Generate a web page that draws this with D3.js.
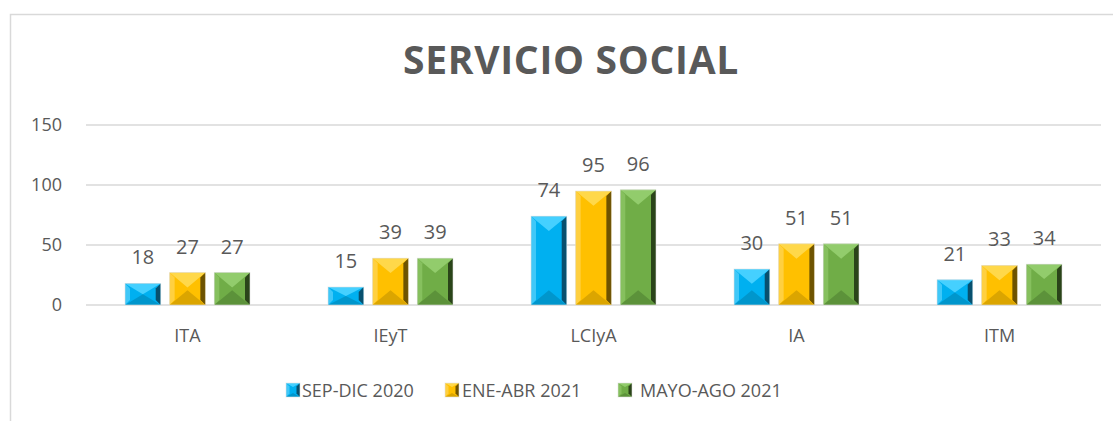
<!DOCTYPE html>
<html><head><meta charset="utf-8">
<script src="https://cdn.jsdelivr.net/npm/d3@7"></script>
<style>body{margin:0;background:#fff}svg{display:block}</style>
</head><body>
<svg id="c" width="1113" height="421"></svg>
<script>
const categories = ["ITA","IEyT","LCIyA","IA","ITM"];
const seriesNames = ["SEP-DIC 2020","ENE-ABR 2021","MAYO-AGO 2021"];
const sepDic2020 = [18,15,74,30,21];
const eneAbr2021 = [27,39,95,51,33];
const mayoAgo2021 = [27,39,96,51,34];
const yTicks = [0,50,100,150];
const title = "SERVICIO SOCIAL";

const series = [sepDic2020, eneAbr2021, mayoAgo2021];
const palette = [
  {base:"#00B0F0", light:"#40c8f8", top:"#45d0ff", dark:"#08506e", bottom:"#0096cc"},
  {base:"#FFC000", light:"#ffd040", top:"#ffd84a", dark:"#6e5300", bottom:"#dba500"},
  {base:"#70AD47", light:"#86c05e", top:"#92cc6c", dark:"#2a4419", bottom:"#5c923a"}
];
const font = "'Open Sans', 'Liberation Sans', sans-serif";
const txt = "#595959";

const svg = d3.select("#c");
// chart border
svg.append("rect").attr("x",10.5).attr("y",14.5).attr("width",1120).attr("height",420)
  .attr("fill","none").attr("stroke","#d9d9d9").attr("stroke-width",1.5);

const x0 = 86, x1 = 1101;
const y = d3.scaleLinear().domain([0,150]).range([305,125]);
const xb = d3.scaleBand().domain(categories).range([x0,x1]).paddingInner(0).paddingOuter(0);
const xs = d3.scaleBand().domain(d3.range(3)).range([0,125]).paddingInner(0.2).paddingOuter(0);

// gridlines
svg.append("g").selectAll("line").data(yTicks).join("line")
  .attr("x1",x0).attr("x2",x1).attr("y1",d=>y(d)).attr("y2",d=>y(d))
  .attr("stroke","#d9d9d9").attr("stroke-width",1.5);

// y axis labels
const yAxis = d3.axisLeft(y).tickValues(yTicks).tickSize(0).tickPadding(0);
const yg = svg.append("g").attr("transform","translate(62,0)").call(yAxis);
yg.select(".domain").remove();
yg.selectAll("text").attr("font-family",font).attr("font-size",18).attr("fill",txt);

// x axis labels
const xAxis = d3.axisBottom(xb).tickSize(0).tickPadding(0);
const xg = svg.append("g").attr("transform","translate(0,329)").call(xAxis);
xg.select(".domain").remove();
xg.selectAll("text").attr("font-family",font).attr("font-size",18).attr("fill",txt);

// bars with bevel
function bevelBar(g, bx0, bx1, by0, by1, c){
  const w = bx1-bx0, h = by1-by0, cx = (bx0+bx1)/2;
  const s = Math.min(5, w/4);
  const dv = Math.min(w/2 - 3, h/2);
  const P = pts => pts.map(p=>p.join(",")).join(" ");
  g.append("rect").attr("x",bx0).attr("y",by0).attr("width",w).attr("height",h).attr("fill",c.base);
  g.append("polygon").attr("points",P([[bx0,by0],[bx0+s,by0+Math.min(s,h/2)],[bx0+s,by1-Math.min(s,h/2)],[bx0,by1]])).attr("fill",c.light);
  g.append("polygon").attr("points",P([[bx1,by0],[bx1-s,by0+Math.min(s,h/2)],[bx1-s,by1-Math.min(s,h/2)],[bx1,by1]])).attr("fill",c.dark);
  g.append("polygon").attr("points",P([[bx0,by0],[bx1,by0],[cx,by0+dv]])).attr("fill",c.top);
  g.append("polygon").attr("points",P([[bx0,by1],[bx1,by1],[cx,by1-dv]])).attr("fill",c.bottom);
  g.append("rect").attr("x",bx0).attr("y",by0).attr("width",w).attr("height",h)
    .attr("fill","none").attr("stroke","#e0e0e0").attr("stroke-width",0.8).attr("opacity",0.7);
}

const barsG = svg.append("g");
categories.forEach((cat,i)=>{
  const cx = xb(cat) + xb.bandwidth()/2 - 62.5;
  series.forEach((s,k)=>{
    const bx0 = cx + xs(k), bx1 = bx0 + xs.bandwidth();
    bevelBar(barsG, bx0, bx1, y(s[i]), y(0), palette[k]);
    svg.append("text").attr("x",(bx0+bx1)/2).attr("y",y(s[i])-19)
      .attr("text-anchor","middle").attr("font-family",font).attr("font-size",20)
      .attr("fill",txt).text(s[i]);
  });
});

// title
svg.append("text").attr("x",571).attr("y",74).attr("text-anchor","middle")
  .attr("font-family",font).attr("font-weight","bold").attr("font-size",39)
  .attr("letter-spacing",0.7).attr("fill",txt).text(title);

// legend
const legX = [286, 445, 618];
const legTX = [302, 462, 640];
seriesNames.forEach((n,k)=>{
  const g = svg.append("g");
  bevelBar(g, legX[k], legX[k]+14, 383, 397, palette[k]);
  svg.append("text").attr("x",legTX[k]).attr("y",397).attr("font-family",font)
    .attr("font-size",18).attr("fill",txt).text(n);
});
</script>
</body></html>
